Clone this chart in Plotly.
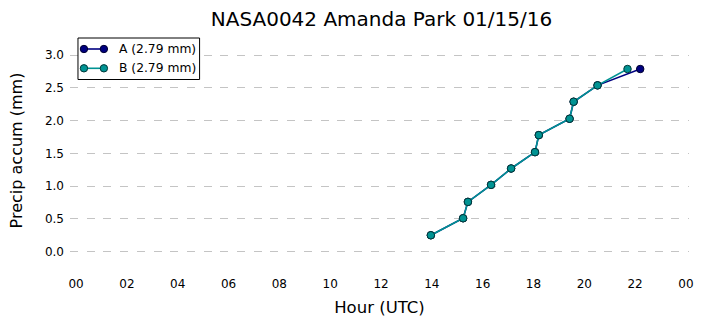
import plotly.graph_objects as go

# Data (hours UTC, accumulated precip mm)
hours_a = [13.96, 15.23, 15.42, 16.33, 17.12, 18.06, 18.21, 19.42, 19.58, 20.52, 22.2]
precip_a = [0.25, 0.51, 0.76, 1.02, 1.27, 1.52, 1.78, 2.03, 2.29, 2.54, 2.79]
hours_b = [13.96, 15.23, 15.42, 16.33, 17.12, 18.06, 18.21, 19.42, 19.58, 20.52, 21.7]
precip_b = [0.25, 0.51, 0.76, 1.02, 1.27, 1.52, 1.78, 2.03, 2.29, 2.54, 2.79]
series_names = ["A (2.79 mm)", "B (2.79 mm)"]
series_colors = ["#000080", "#009393"]
edge_colors = ["#000030", "#003838"]
x_tickvals = [0, 2, 4, 6, 8, 10, 12, 14, 16, 18, 20, 22, 24]
x_ticktext = ["00", "02", "04", "06", "08", "10", "12", "14", "16", "18", "20", "22", "00"]
y_tickvals = [0.0, 0.5, 1.0, 1.5, 2.0, 2.5, 3.0]
y_ticktext = ["0.0", "0.5", "1.0", "1.5", "2.0", "2.5", "3.0"]

FONT = "DejaVu Sans"
W, H = 706, 326
ML, MR, MT, MB = 70, 15, 33, 58
PW, PH = W - ML - MR, H - MT - MB


def px_x(p):
    return (p - ML) / PW


def px_y(p):
    return (H - MB - p) / PH


fig = go.Figure()
for hx, py, name, col, ec in [(hours_a, precip_a, series_names[0], series_colors[0], edge_colors[0]),
                              (hours_b, precip_b, series_names[1], series_colors[1], edge_colors[1])]:
    fig.add_trace(go.Scatter(
        x=hx, y=py, mode="lines+markers", name=name, showlegend=False,
        line=dict(color=col, width=1.6),
        marker=dict(color=col, size=7.5, line=dict(color=ec, width=1)),
    ))

# Manual legend (matplotlib-style: line with markers at both ends)
shapes = [dict(type="rect", xref="paper", yref="paper",
               x0=px_x(78), x1=px_x(200), y0=px_y(79.5), y1=px_y(38),
               line=dict(color="black", width=1), fillcolor="white", layer="above")]
annotations = []
for i, (name, col, ec) in enumerate(zip(series_names, series_colors, edge_colors)):
    yc = 49 + i * 19.3
    shapes.append(dict(type="line", xref="paper", yref="paper",
                       x0=px_x(84), x1=px_x(104), y0=px_y(yc), y1=px_y(yc),
                       line=dict(color=col, width=1.6), layer="above"))
    for cx in (84, 104):
        shapes.append(dict(type="circle", xref="paper", yref="paper",
                           xsizemode="pixel", ysizemode="pixel",
                           xanchor=px_x(cx), yanchor=px_y(yc),
                           x0=-3.7, x1=3.7, y0=-3.7, y1=3.7,
                           fillcolor=col, line=dict(color=ec, width=1), layer="above"))
    annotations.append(dict(text=name, xref="paper", yref="paper",
                            x=px_x(117), y=px_y(yc), xanchor="left", yanchor="middle",
                            showarrow=False, font=dict(family=FONT, size=12.3, color="black")))

fig.update_layout(
    width=W, height=H,
    margin=dict(l=ML, r=MR, t=MT, b=MB),
    paper_bgcolor="white", plot_bgcolor="white",
    font=dict(family=FONT, size=12, color="black"),
    title=dict(text="NASA0042 Amanda Park 01/15/16", x=381.5 / W, xanchor="center",
               y=1 - 18.5 / H, yanchor="middle", font=dict(family=FONT, size=20, color="black")),
    showlegend=False,
    shapes=shapes,
    annotations=annotations,
    xaxis=dict(range=[-0.24, 24.12], tickmode="array", tickvals=x_tickvals, ticktext=x_ticktext,
               showgrid=False, zeroline=False, showline=False, ticks="",
               ticklabelstandoff=7,
               title=dict(text="Hour (UTC)", font=dict(family=FONT, size=16.5), standoff=11),
               tickfont=dict(family=FONT, size=12)),
    yaxis=dict(range=[-0.25, 3.34], tickmode="array", tickvals=y_tickvals, ticktext=y_ticktext,
               showgrid=True, gridcolor="#c4c4c4", griddash="8px,8.7px", gridwidth=1,
               zeroline=False, showline=False, ticks="",
               ticklabelstandoff=5,
               title=dict(text="Precip accum (mm)", font=dict(family=FONT, size=16), standoff=18),
               tickfont=dict(family=FONT, size=12)),
)

fig.write_html("out.html")
